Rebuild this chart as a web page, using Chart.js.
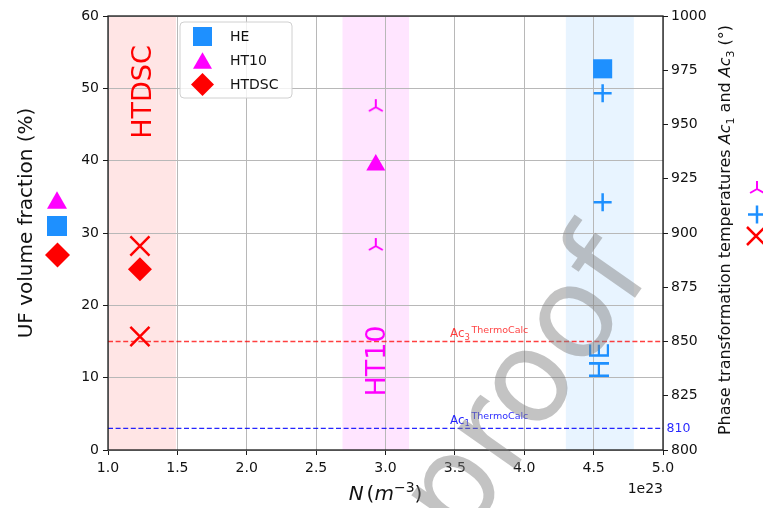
<!DOCTYPE html>
<html>
<head>
<meta charset="utf-8">
<script src="https://cdn.jsdelivr.net/npm/chart.js@4.4.0/dist/chart.umd.min.js"></script>
<style>
html, body { margin: 0; padding: 0; background: #fff; }
</style>
</head>
<body>
<canvas id="scatterChart" width="763" height="508" style="width:763px;height:508px"></canvas>
<script>
// N in units of 1e23 m^-3
var series = ['HE', 'HT10', 'HTDSC'];
var seriesColors = ['#1E90FF', '#FF00FF', '#FF0000'];
var nDensity = [4.565, 2.93, 1.23];
var ufFraction = [52.7, 39.4, 25.0];
// measured Ac temperatures (right axis)
var acUpper = [964.4, 958, 894];
var acLower = [914.2, 894, 852.3];
// shaded span around each sample
var bandFrom = [4.30, 2.69, 1.0];
var bandTo = [4.79, 3.17, 1.49];
// ThermoCalc reference lines
var thermoSubs = ['3', '1'];
var thermoValues = [850, 810];
var thermoColors = ['rgba(255,0,0,0.75)', 'rgba(0,0,255,0.85)'];
// ticks
var xTicks = [1.0, 1.5, 2.0, 2.5, 3.0, 3.5, 4.0, 4.5, 5.0];
var leftTicks = [0, 10, 20, 30, 40, 50, 60];
var rightTicks = [800, 825, 850, 875, 900, 925, 950, 975, 1000];

var FONT = '"DejaVu Sans", sans-serif';

function makeTri(color, r, lw) {
    var c = document.createElement('canvas');
    var s = 2 * Math.ceil(r + lw);
    c.width = s; c.height = s;
    var g = c.getContext('2d');
    var cx = s / 2, cy = s / 2;
    g.strokeStyle = color; g.lineWidth = lw;
    g.beginPath();
    g.moveTo(cx, cy); g.lineTo(cx, cy - r);
    g.moveTo(cx, cy); g.lineTo(cx - r * 0.866, cy + r * 0.5);
    g.moveTo(cx, cy); g.lineTo(cx + r * 0.866, cy + r * 0.5);
    g.stroke();
    return c;
}

var fracStyles = ['rect', 'triangle', 'rectRot'];
var fracRadius = [13.5, 11, 12];
var acStyles = ['cross', makeTri(seriesColors[1], 8, 2), 'crossRot'];
var acRadius = [9, 8, 13.5];

function drawMarker(ctx, style, x, y, size, color) {
    ctx.save();
    ctx.fillStyle = color; ctx.strokeStyle = color; ctx.lineWidth = 2.5;
    ctx.beginPath();
    var h = size / 2;
    if (style === 'rect') {
        ctx.rect(x - h, y - h, size, size); ctx.fill();
    } else if (style === 'triangle') {
        var th = size * 0.866 / 2;
        ctx.moveTo(x, y - th); ctx.lineTo(x + h, y + th); ctx.lineTo(x - h, y + th);
        ctx.closePath(); ctx.fill();
    } else if (style === 'rectRot') {
        ctx.moveTo(x, y - h); ctx.lineTo(x + h, y); ctx.lineTo(x, y + h); ctx.lineTo(x - h, y);
        ctx.closePath(); ctx.fill();
    } else if (style === 'cross') {
        ctx.moveTo(x - h, y); ctx.lineTo(x + h, y); ctx.moveTo(x, y - h); ctx.lineTo(x, y + h);
        ctx.stroke();
    } else if (style === 'crossRot') {
        ctx.moveTo(x - h, y - h); ctx.lineTo(x + h, y + h); ctx.moveTo(x + h, y - h); ctx.lineTo(x - h, y + h);
        ctx.stroke();
    } else if (style === 'tri') {
        ctx.lineWidth = 2;
        ctx.moveTo(x, y); ctx.lineTo(x, y - h);
        ctx.moveTo(x, y); ctx.lineTo(x - h * 0.866, y + h * 0.5);
        ctx.moveTo(x, y); ctx.lineTo(x + h * 0.866, y + h * 0.5);
        ctx.stroke();
    }
    ctx.restore();
}

function drawSegments(ctx, segs, cx, baseY) {
    var total = 0;
    segs.forEach(function (s) { ctx.font = s.f; s.w = ctx.measureText(s.t).width; total += s.w + (s.gap || 0); });
    var x = cx - total / 2;
    segs.forEach(function (s) {
        ctx.font = s.f;
        ctx.fillText(s.t, x, baseY + (s.dy || 0));
        x += s.w + (s.gap || 0);
    });
}

var datasets = [];
series.forEach(function (name, i) {
    datasets.push({
        label: name,
        data: [{x: nDensity[i], y: ufFraction[i]}],
        yAxisID: 'y',
        pointStyle: fracStyles[i],
        pointRadius: fracRadius[i],
        backgroundColor: seriesColors[i],
        borderWidth: 0,
        order: 1
    });
});
series.forEach(function (name, i) {
    datasets.push({
        label: name + ' Ac',
        data: [{x: nDensity[i], y: acUpper[i]}, {x: nDensity[i], y: acLower[i]}],
        yAxisID: 'y2',
        pointStyle: acStyles[i],
        pointRadius: acRadius[i],
        backgroundColor: 'rgba(0,0,0,0)',
        borderColor: seriesColors[i],
        borderWidth: 2.5,
        order: 2
    });
});
thermoValues.forEach(function (v, i) {
    datasets.push({
        type: 'line',
        label: 'Ac' + thermoSubs[i] + ' ThermoCalc',
        data: [{x: xTicks[0], y: v}, {x: xTicks[xTicks.length - 1], y: v}],
        yAxisID: 'y2',
        borderColor: thermoColors[i],
        borderWidth: 1.3,
        borderDash: [5, 2.6],
        pointRadius: 0,
        order: 3
    });
});

var bandsPlugin = {
    id: 'bands',
    beforeDraw: function (chart) {
        var ctx = chart.ctx, a = chart.chartArea, xs = chart.scales.x;
        ctx.save();
        ctx.fillStyle = '#fff';
        ctx.fillRect(0, 0, chart.width, chart.height);
        series.forEach(function (name, i) {
            var x0 = xs.getPixelForValue(bandFrom[i]), x1 = xs.getPixelForValue(bandTo[i]);
            ctx.globalAlpha = 0.1;
            ctx.fillStyle = seriesColors[i];
            ctx.fillRect(x0, a.top, x1 - x0, a.bottom - a.top);
        });
        ctx.restore();
    }
};

var bandLabelY = [12.3, 12.3, 49.5];

var annotatePlugin = {
    id: 'annotate',
    afterDatasetsDraw: function (chart) {
        var ctx = chart.ctx, xs = chart.scales.x, yl = chart.scales.y, yr = chart.scales.y2;
        ctx.save();
        // rotated sample names
        ctx.font = '27px ' + FONT;
        ctx.textAlign = 'center';
        ctx.textBaseline = 'middle';
        series.forEach(function (name, i) {
            var cx = xs.getPixelForValue((bandFrom[i] + bandTo[i]) / 2);
            var cy = yl.getPixelForValue(bandLabelY[i]);
            ctx.save();
            ctx.translate(cx, cy);
            ctx.rotate(-Math.PI / 2);
            ctx.fillStyle = seriesColors[i];
            ctx.fillText(name, 0, 2);
            ctx.restore();
        });
        // ThermoCalc labels
        ctx.textAlign = 'left';
        ctx.textBaseline = 'alphabetic';
        thermoValues.forEach(function (v, i) {
            var x = xs.getPixelForValue(3.465), y = yr.getPixelForValue(v) - 4.5;
            ctx.fillStyle = thermoColors[i];
            ctx.font = '12px ' + FONT;
            ctx.fillText('Ac', x, y);
            var w = ctx.measureText('Ac').width;
            ctx.font = '8.5px ' + FONT;
            ctx.fillText(thermoSubs[i], x + w, y + 2.5);
            var ws = ctx.measureText(thermoSubs[i]).width;
            ctx.font = '9.5px ' + FONT;
            ctx.fillText('ThermoCalc', x + w + ws + 1.5, y - 4.5);
        });
        // value of the lower line next to the right axis
        ctx.font = '12.5px ' + FONT;
        ctx.textBaseline = 'middle';
        ctx.fillStyle = thermoColors[1];
        ctx.fillText(String(thermoValues[1]), chart.chartArea.right + 3.5, yr.getPixelForValue(thermoValues[1]));
        ctx.restore();
    },
    afterDraw: function (chart) {
        var ctx = chart.ctx, a = chart.chartArea;
        ctx.save();
        // frame
        ctx.strokeStyle = '#1a1a1a';
        ctx.lineWidth = 1.3;
        ctx.strokeRect(a.left, a.top, a.right - a.left, a.bottom - a.top);

        // legend
        var bx = 180, by = 22, bw = 112, bh = 76, r = 4;
        ctx.beginPath();
        ctx.moveTo(bx + r, by);
        ctx.arcTo(bx + bw, by, bx + bw, by + bh, r);
        ctx.arcTo(bx + bw, by + bh, bx, by + bh, r);
        ctx.arcTo(bx, by + bh, bx, by, r);
        ctx.arcTo(bx, by, bx + bw, by, r);
        ctx.closePath();
        ctx.fillStyle = 'rgba(255,255,255,0.8)';
        ctx.fill();
        ctx.strokeStyle = '#d0d0d0';
        ctx.lineWidth = 1;
        ctx.stroke();
        var legSize = [19, 19, 23];
        ctx.font = '14px ' + FONT;
        ctx.textBaseline = 'middle';
        ctx.textAlign = 'left';
        series.forEach(function (name, i) {
            var ly = 36.5 + i * 24;
            drawMarker(ctx, fracStyles[i], 202.5, ly, legSize[i], seriesColors[i]);
            ctx.fillStyle = '#111';
            ctx.fillText(name, 230, ly + 0.5);
        });

        // markers beside the axis titles
        drawMarker(ctx, 'triangle', 57, 200, 20, seriesColors[1]);
        drawMarker(ctx, 'rect', 57, 226, 20, seriesColors[0]);
        drawMarker(ctx, 'rectRot', 57.5, 255, 25, seriesColors[2]);
        drawMarker(ctx, 'tri', 757, 189, 16, seriesColors[1]);
        drawMarker(ctx, 'cross', 757, 214.5, 18, seriesColors[0]);
        drawMarker(ctx, 'crossRot', 756, 236, 18, seriesColors[2]);

        // axis titles
        ctx.fillStyle = '#111';
        ctx.textBaseline = 'alphabetic';
        ctx.textAlign = 'center';
        ctx.save();
        ctx.translate(32, 223);
        ctx.rotate(-Math.PI / 2);
        ctx.font = '20px ' + FONT;
        ctx.fillText('UF volume fraction (%)', 0, 0);
        ctx.restore();

        ctx.textAlign = 'left';
        ctx.save();
        ctx.translate(730, 230);
        ctx.rotate(-Math.PI / 2);
        drawSegments(ctx, [
            {t: 'Phase transformation temperatures ', f: '16px ' + FONT},
            {t: 'Ac', f: 'italic 16px ' + FONT},
            {t: '1', f: '11px ' + FONT, dy: 3.5},
            {t: ' and ', f: '16px ' + FONT},
            {t: 'Ac', f: 'italic 16px ' + FONT},
            {t: '3', f: '11px ' + FONT, dy: 3.5},
            {t: ' (\u00b0)', f: '16px ' + FONT}
        ], 0, 0);
        ctx.restore();

        drawSegments(ctx, [
            {t: 'N', f: 'italic 20px ' + FONT, gap: 3},
            {t: '(', f: '20px ' + FONT},
            {t: 'm', f: 'italic 20px ' + FONT},
            {t: '\u22123', f: '14px ' + FONT, dy: -8.5},
            {t: ')', f: '20px ' + FONT}
        ], (a.left + a.right) / 2, 500);

        ctx.font = '14px ' + FONT;
        ctx.textAlign = 'right';
        ctx.fillText('1e23', a.right, 493);

        // watermark
        ctx.translate(462, 545);
        ctx.rotate(-55 * Math.PI / 180);
        ctx.font = '128px ' + FONT;
        ctx.textAlign = 'left';
        ctx.fillStyle = 'rgba(128,128,128,0.47)';
        ctx.fillText('proof', 0, 0);
        ctx.restore();
    }
};

var tickFont = {family: FONT, size: 14};

var scatterChart = new Chart(document.getElementById('scatterChart'), {
    type: 'scatter',
    data: {datasets: datasets},
    options: {
        responsive: false,
        animation: false,
        events: [],
        layout: {padding: {top: 14, left: 0, right: 0, bottom: 0}},
        plugins: {legend: {display: false}, tooltip: {enabled: false}},
        scales: {
            x: {
                type: 'linear',
                min: xTicks[0],
                max: xTicks[xTicks.length - 1],
                afterBuildTicks: function (s) { s.ticks = xTicks.map(function (v) { return {value: v}; }); },
                afterFit: function (s) { s.height = 58; },
                ticks: {font: tickFont, color: '#111', padding: 5, maxRotation: 0,
                    callback: function (v) { return Number(v).toFixed(1); }},
                grid: {color: '#b8b8b8', lineWidth: 1, tickColor: '#1a1a1a', tickLength: 5},
                border: {display: false}
            },
            y: {
                type: 'linear',
                position: 'left',
                min: leftTicks[0],
                max: leftTicks[leftTicks.length - 1],
                afterBuildTicks: function (s) { s.ticks = leftTicks.map(function (v) { return {value: v}; }); },
                afterFit: function (s) { s.width = 108; },
                ticks: {font: tickFont, color: '#111', padding: 4,
                    callback: function (v) { return String(v); }},
                grid: {color: '#b8b8b8', lineWidth: 1, tickColor: '#1a1a1a', tickLength: 5},
                border: {display: false}
            },
            y2: {
                type: 'linear',
                position: 'right',
                min: rightTicks[0],
                max: rightTicks[rightTicks.length - 1],
                afterBuildTicks: function (s) { s.ticks = rightTicks.map(function (v) { return {value: v}; }); },
                afterFit: function (s) { s.width = 100; },
                ticks: {font: tickFont, color: '#111', padding: 3,
                    callback: function (v) { return String(v); }},
                grid: {drawOnChartArea: false, tickColor: '#1a1a1a', tickLength: 5},
                border: {display: false}
            }
        }
    },
    plugins: [bandsPlugin, annotatePlugin]
});
</script>
</body>
</html>
